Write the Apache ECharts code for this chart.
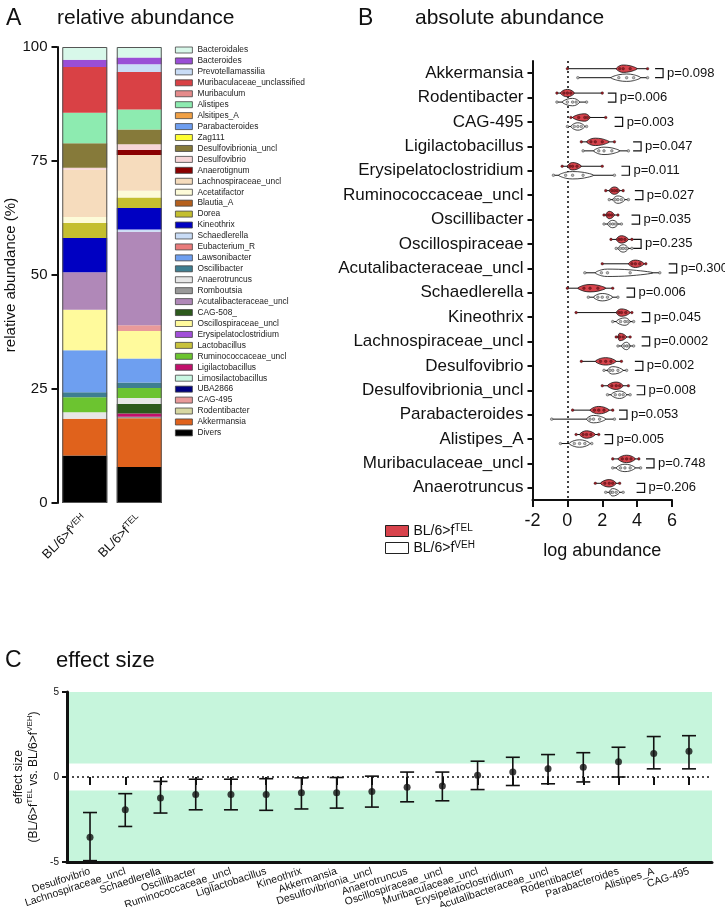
<!DOCTYPE html>
<html><head><meta charset="utf-8"><title>abundance</title>
<script src="https://cdn.jsdelivr.net/npm/echarts@6.0.0/dist/echarts.min.js"></script>
<style>html,body{margin:0;padding:0;background:#fff;}#chart{width:725px;height:907px;}</style>
</head><body><div id="chart"></div>
<script>
// ---------------- Panel A : relative abundance ----------------
const groupsA = ['VEH', 'TEL'];
const taxaLegend = ['Bacteroidales','Bacteroides','Prevotellamassilia','Muribaculaceae_unclassified','Muribaculum','Alistipes','Alsitipes_A','Parabacteroides','Zag111','Desulfovibrionia_uncl','Desulfovibrio','Anaerotignum','Lachnospiraceae_uncl','Acetatifactor','Blautia_A','Dorea','Kineothrix','Schaedlerella','Eubacterium_R','Lawsonibacter','Oscillibacter','Anaerotruncus','Romboutsia','Acutalibacteraceae_uncl','CAG-508_','Oscillospiraceae_uncl','Erysipelatoclostridium','Lactobacillus','Ruminococcaceae_uncl','Ligilactobacillus','Limosilactobacillus','UBA2866','CAG-495','Rodentibacter','Akkermansia','Divers'];
const taxaColors = ['#d8f8ea','#9a4ed6','#c9dcf6','#d94145','#e58b8b','#8debb0','#f0a044','#6e9ef0','#ffff33','#867a3a','#f7d6d8','#8a0000','#f6dcbd','#fdfbd8','#b5601d','#c4bf2f','#0000c2','#c9dcf6','#e97b7b','#6e9ff0','#3e7e91','#e7e7e7','#999999','#b088b8','#2c5a1c','#fffa9c','#a24fd9','#c8c23c','#6cc430','#c2106c','#c9f7e2','#000080','#e99a9a','#d8d8a2','#e0621c','#000000'];
// stacking order in the bars, bottom to top
const stackOrder = ['Divers','Akkermansia','Romboutsia','Ligilactobacillus','CAG-508_','Anaerotruncus','Ruminococcaceae_uncl','Oscillibacter','Lawsonibacter','Oscillospiraceae_uncl','CAG-495','Acutalibacteraceae_uncl','Schaedlerella','Kineothrix','Dorea','Acetatifactor','Lachnospiraceae_uncl','Anaerotignum','Desulfovibrio','Desulfovibrionia_uncl','Alistipes','Muribaculaceae_unclassified','Prevotellamassilia','Bacteroides','Bacteroidales'];
const vehShare = [10.4,8.1,0,0,0,1.4,3.3,1.1,9.2,8.9,0,8.2,0,7.5,3.3,1.3,10.4,0,0.4,5.4,6.7,10.0,0,1.6,2.8];
const telShare = [7.9,10.7,0.3,0.7,2.1,1.3,2.2,1.2,5.3,6.0,1.3,20.5,0.5,4.7,2.3,1.5,7.8,1.1,1.3,3.2,4.4,8.2,1.7,1.5,2.3];

// ---------------- Panel B : absolute abundance ----------------
const absCategories = ['Akkermansia','Rodentibacter','CAG-495','Ligilactobacillus','Erysipelatoclostridium','Ruminococcaceae_uncl','Oscillibacter','Oscillospiraceae','Acutalibacteraceae_uncl','Schaedlerella','Kineothrix','Lachnospiraceae_uncl','Desulfovibrio','Desulfovibrionia_uncl','Parabacteroides','Alistipes_A','Muribaculaceae_uncl','Anaerotruncus'];
const telMin = [0.0,-0.6,0.2,0.8,-0.3,2.2,2.1,2.5,2.0,0.0,0.5,2.8,0.8,2.0,0.3,0.5,2.6,1.6];
const telLo  = [2.8,-0.4,0.3,1.1,0.0,2.4,2.2,2.8,3.5,0.6,2.8,2.9,1.6,2.3,1.3,0.7,2.9,1.9];
const telMid = [3.2,0.0,1.0,1.6,0.3,2.7,2.4,3.1,3.9,1.3,3.1,3.0,2.2,2.8,1.8,1.1,3.4,2.4];
const telHi  = [4.0,0.4,1.3,2.4,0.8,3.0,2.7,3.5,4.4,2.2,3.6,3.4,2.8,3.2,2.4,1.6,3.9,2.8];
const telMax = [4.6,2.0,2.2,2.7,2.0,3.2,2.9,3.7,4.5,2.6,3.7,3.6,3.1,3.5,2.6,1.8,4.1,3.0];
const vehMin = [0.6,-0.6,0.0,0.9,-0.8,2.4,2.1,2.8,1.0,1.2,2.6,2.9,2.1,2.3,-0.9,-0.4,2.6,2.2];
const vehLo  = [2.5,-0.3,0.2,1.5,-0.5,2.6,2.3,2.9,1.6,1.5,2.8,3.1,2.3,2.5,1.1,0.1,2.8,2.4];
const vehMid = [3.4,0.3,0.6,2.1,0.3,2.9,2.6,3.2,2.3,2.0,3.3,3.4,2.6,3.0,1.5,0.7,3.3,2.6];
const vehHi  = [4.2,0.7,1.0,3.0,1.5,3.3,2.9,3.5,4.9,2.6,3.6,3.6,3.2,3.4,2.2,1.3,3.9,3.0];
const vehMax = [4.6,1.1,1.1,3.5,2.7,3.5,3.1,3.7,5.3,2.9,3.8,3.8,3.4,3.6,2.7,1.4,4.2,3.2];
const pLabels = ['p=0.098','p=0.006','p=0.003','p=0.047','p=0.011','p=0.027','p=0.035','p=0.235','p=0.300','p=0.006','p=0.045','p=0.0002','p=0.002','p=0.008','p=0.053','p=0.005','p=0.748','p=0.206'];
const pBracketAt = [5.03,2.32,2.71,3.77,3.10,3.87,3.68,3.77,5.81,3.39,4.26,4.26,3.87,3.97,2.96,2.13,4.51,3.97];
const absTicks = {min: -2, max: 6, step: 2};

// ---------------- Panel C : effect size ----------------
const effectCategories = ['Desulfovibrio','Lachnospiraceae_uncl','Schaedlerella','Oscillibacter','Ruminococcaceae_uncl','Ligilactobacillus','Kineothrix','Akkermansia','Desulfovibrionia_uncl','Anaerotruncus','Oscillospiraceae_uncl','Muribaculaceae_uncl','Erysipelatoclostridium','Acutalibacteraceae_uncl','Rodentibacter','Parabacteroides','Alistipes_A','CAG-495'];
const effectMean = [-3.54,-1.93,-1.24,-1.03,-1.03,-1.03,-0.93,-0.93,-0.85,-0.61,-0.53,0.10,0.29,0.48,0.58,0.90,1.38,1.51];
const effectLow  = [-4.92,-2.91,-2.12,-1.93,-1.93,-1.96,-1.88,-1.83,-1.77,-1.46,-1.40,-0.74,-0.50,-0.40,-0.29,0.00,0.48,0.48];
const effectHigh = [-2.09,-0.98,-0.26,-0.13,-0.13,-0.10,-0.05,-0.03,0.05,0.29,0.29,0.93,1.16,1.32,1.43,1.75,2.38,2.43];
const effectBand = 0.8;
const effectTicks = {min: -5, max: 5, step: 5};

// ---------------- helpers ----------------
const FONT = '"Liberation Sans", Arial, Helvetica, sans-serif';
function hasFont(name) {
  const c = document.createElement('canvas').getContext('2d');
  const s = 'abcdefghijklmnopqrstuvwxyz';
  c.font = '20px monospace'; const w1 = c.measureText(s).width;
  c.font = '20px "' + name + '", monospace'; const w2 = c.measureText(s).width;
  return Math.abs(w1 - w2) > 0.5;
}
const NARROW = hasFont('Liberation Sans Narrow');
const legendText = NARROW ? {fontFamily: '"Liberation Sans Narrow"', fontSize: 10} : {fontFamily: FONT, fontSize: 8.4};
const colorOf = n => taxaColors[taxaLegend.indexOf(n)];
const sum = a => a.reduce((s, v) => s + v, 0);
const supRich = (size, sup, lh) => ({
  a: {fontSize: size, fontFamily: FONT, color: '#111', lineHeight: lh},
  s: {fontSize: sup, fontFamily: FONT, color: '#111', lineHeight: sup + 1, verticalAlign: 'top'}
});

// ---------------- series A ----------------
const seriesA = [];
stackOrder.forEach((name, i) => seriesA.push({
  name, type: 'bar', stack: 'abund', xAxisIndex: 0, yAxisIndex: 0, barWidth: 45,
  data: [vehShare[i], telShare[i]], itemStyle: {color: colorOf(name)}, silent: true
}));
taxaLegend.filter(n => stackOrder.indexOf(n) < 0).forEach(name => seriesA.push({
  name, type: 'bar', stack: 'abund', xAxisIndex: 0, yAxisIndex: 0, barWidth: 45,
  data: [0, 0], itemStyle: {color: colorOf(name)}, silent: true
}));
seriesA.push({
  name: 'outline', type: 'bar', xAxisIndex: 0, yAxisIndex: 0, barWidth: 45, barGap: '-100%',
  data: [sum(vehShare), sum(telShare)], z: 5, silent: true,
  itemStyle: {color: 'rgba(0,0,0,0)', borderColor: '#555', borderWidth: 1}
});

// ---------------- series B ----------------
function violin(off, dotColor) {
  return function (params, api) {
    const cat = api.value(0);
    const yc = api.coord([0, cat])[1] + off;
    const px = k => api.coord([api.value(k), cat])[0];
    const xMin = px(1), xLo = px(2), xMid = px(3), xHi = px(4), xMax = px(5);
    const h = 3.7;
    const pts = [[xLo, yc], [(xLo + xMid) / 2, yc - h * 0.8], [xMid, yc - h], [(xMid + xHi) / 2, yc - h * 0.8], [xHi, yc],
                 [(xMid + xHi) / 2, yc + h * 0.8], [xMid, yc + h], [(xLo + xMid) / 2, yc + h * 0.8]];
    const fill = api.visual('color');
    const dots = [xMin, (xLo + xMid) / 2, xMid, (xMid + xHi) / 2, xMax].map(x => ({
      type: 'circle', shape: {cx: x, cy: yc, r: 1.3}, style: {fill: dotColor, stroke: '#222', lineWidth: 0.4}
    }));
    return {type: 'group', children: [
      {type: 'line', shape: {x1: xMin, y1: yc, x2: xMax, y2: yc}, style: {stroke: '#111', lineWidth: 1}},
      {type: 'polygon', shape: {points: pts, smooth: 0.3}, style: {fill, stroke: '#111', lineWidth: 0.8}}
    ].concat(dots)};
  };
}
const telData = absCategories.map((c, i) => [i, telMin[i], telLo[i], telMid[i], telHi[i], telMax[i]]);
const vehData = absCategories.map((c, i) => [i, vehMin[i], vehLo[i], vehMid[i], vehHi[i], vehMax[i]]);
const bracketData = absCategories.map((c, i) => [i, pBracketAt[i]]);

const seriesB = [
  {name: 'TEL', type: 'custom', xAxisIndex: 1, yAxisIndex: 1, data: telData, encode: {x: [1, 2, 3, 4, 5], y: 0},
   itemStyle: {color: '#d8434c'}, renderItem: violin(-4.5, '#a01820'), z: 4, silent: true,
   markLine: {silent: true, symbol: 'none', label: {show: false}, lineStyle: {color: '#111', type: [2, 3], width: 1.6},
              data: [{xAxis: 0}], z: 1}},
  {name: 'VEH', type: 'custom', xAxisIndex: 1, yAxisIndex: 1, data: vehData, encode: {x: [1, 2, 3, 4, 5], y: 0},
   itemStyle: {color: '#ffffff'}, renderItem: violin(4.5, '#bbbbbb'), z: 4, silent: true},
  {name: 'pvalues', type: 'custom', xAxisIndex: 1, yAxisIndex: 1, data: bracketData, encode: {x: 1, y: 0}, silent: true,
   renderItem: function (params, api) {
     const cat = api.value(0);
     const yc = api.coord([0, cat])[1];
     const x = api.coord([api.value(1), cat])[0];
     return {type: 'group', children: [
       {type: 'polyline', shape: {points: [[x, yc - 4.5], [x + 8, yc - 4.5], [x + 8, yc + 4.5], [x, yc + 4.5]]},
        style: {stroke: '#111', lineWidth: 1.2, fill: null}},
       {type: 'text', x: x + 12, y: yc, style: {text: pLabels[params.dataIndex], fill: '#111',
        font: '13px ' + FONT, align: 'left', verticalAlign: 'middle'}}
     ]};
   }}
];

// ---------------- series C ----------------
const seriesC = [
  {name: 'band', type: 'scatter', xAxisIndex: 2, yAxisIndex: 2, data: [], silent: true, z: 1,
   markArea: {silent: true, itemStyle: {color: '#c6f5dc'}, label: {show: false},
              data: [[{yAxis: effectBand}, {yAxis: effectTicks.max}], [{yAxis: effectTicks.min}, {yAxis: -effectBand}]]},
   markLine: {silent: true, symbol: 'none', label: {show: false}, lineStyle: {color: '#111', type: [2, 3], width: 1.5},
              data: [{yAxis: 0}]}},
  {name: 'err', type: 'custom', xAxisIndex: 3, yAxisIndex: 3, silent: true, z: 5,
   data: effectCategories.map((c, i) => [i, effectLow[i], effectHigh[i]]), encode: {x: 0, y: [1, 2]},
   renderItem: function (params, api) {
     const lo = api.coord([api.value(0), api.value(1)]);
     const hi = api.coord([api.value(0), api.value(2)]);
     const w = 7;
     const st = {stroke: '#111', lineWidth: 1.6};
     return {type: 'group', children: [
       {type: 'line', shape: {x1: lo[0], y1: lo[1], x2: hi[0], y2: hi[1]}, style: st},
       {type: 'line', shape: {x1: lo[0] - w, y1: lo[1], x2: lo[0] + w, y2: lo[1]}, style: st},
       {type: 'line', shape: {x1: hi[0] - w, y1: hi[1], x2: hi[0] + w, y2: hi[1]}, style: st}
     ]};
   }},
  {name: 'mean', type: 'scatter', xAxisIndex: 3, yAxisIndex: 3, silent: true, z: 6, symbolSize: 7,
   itemStyle: {color: '#111'}, data: effectCategories.map((c, i) => [i, effectMean[i]])}
];

const axisLineStyle = w => ({show: true, onZero: false, lineStyle: {color: '#111', width: w}});
const tickStyle = (len, w) => ({show: true, length: len, lineStyle: {color: '#111', width: w}});
const titleStyle = s => ({fontSize: s, fontWeight: 'normal', color: '#111', fontFamily: FONT});

const option = {
  animation: false,
  backgroundColor: '#ffffff',
  textStyle: {fontFamily: FONT},
  title: [
    {text: 'A', left: 6, top: 7, padding: 0, textStyle: titleStyle(23)},
    {text: 'relative abundance', left: 57, top: 8, padding: 0, textStyle: titleStyle(21)},
    {text: 'B', left: 358, top: 7, padding: 0, textStyle: titleStyle(23)},
    {text: 'absolute abundance', left: 415, top: 8, padding: 0, textStyle: titleStyle(21)},
    {text: 'C', left: 5, top: 649, padding: 0, textStyle: titleStyle(23)},
    {text: 'effect size', left: 56, top: 650, padding: 0, textStyle: titleStyle(22)}
  ],
  legend: [
    {data: taxaLegend, orient: 'vertical', left: 175, top: 46, padding: 0, itemWidth: 17, itemHeight: 6, itemGap: 2.94,
     icon: 'rect', selectedMode: false, textStyle: Object.assign({color: '#222'}, legendText),
     itemStyle: {borderColor: '#444', borderWidth: 0.8}},
    {data: ['TEL', 'VEH'], orient: 'vertical', left: 385, top: 523, padding: 0, itemWidth: 23, itemHeight: 11, itemGap: 2,
     icon: 'rect', selectedMode: false, itemStyle: {borderColor: '#222', borderWidth: 1},
     formatter: n => '{a|BL/6>f}{s|' + n + '}',
     textStyle: {rich: supRich(14, 10, 16)}}
  ],
  grid: [
    {left: 57.5, top: 47, width: 109, height: 456, outerBoundsMode: 'none'},
    {left: 532.5, top: 61, width: 139.5, height: 439, outerBoundsMode: 'none'},
    {left: 67, top: 692, width: 645, height: 170, outerBoundsMode: 'none'},
    {left: 72.4, top: 692, width: 634.2, height: 170, outerBoundsMode: 'none'}
  ],
  xAxis: [
    {type: 'category', gridIndex: 0, data: groupsA, axisLine: {show: false}, axisTick: {show: false},
     axisLabel: {rotate: 45, margin: 14, interval: 0, hideOverlap: false, formatter: v => '{a|BL/6>f}{s|' + v + '}', rich: supRich(13, 9, 15)}},
    {type: 'value', gridIndex: 1, min: absTicks.min, max: absTicks.max, interval: absTicks.step,
     axisLine: axisLineStyle(2), axisTick: tickStyle(7, 2), splitLine: {show: false},
     axisLabel: {fontSize: 18, color: '#111', margin: 12, fontFamily: FONT},
     name: 'log abundance', nameLocation: 'middle', nameGap: 42, nameTextStyle: {fontSize: 18, color: '#111', fontFamily: FONT}},
    {type: 'value', gridIndex: 2, min: 0, max: 1, z: 10, axisLine: axisLineStyle(3), axisTick: {show: false},
     axisLabel: {show: false}, splitLine: {show: false}},
    {type: 'category', gridIndex: 3, data: effectCategories, axisLine: {show: false}, z: 10,
     axisTick: {show: true, alignWithLabel: true, length: 8, lineStyle: {color: '#111', width: 2}},
     axisLabel: {rotate: 18, margin: 9, interval: 0, hideOverlap: false, fontSize: 10.5, color: '#111', fontFamily: FONT}}
  ],
  yAxis: [
    {type: 'value', gridIndex: 0, min: 0, max: 100, interval: 25, axisLine: axisLineStyle(2), axisTick: tickStyle(6, 2),
     splitLine: {show: false}, axisLabel: {fontSize: 15, color: '#111', margin: 10, fontFamily: FONT},
     name: 'relative abundance (%)', nameLocation: 'middle', nameRotate: 90, nameGap: 36,
     nameTextStyle: {fontSize: 15, color: '#111', fontFamily: FONT}},
    {type: 'category', gridIndex: 1, inverse: true, data: absCategories, axisLine: axisLineStyle(2),
     axisTick: {show: true, alignWithLabel: true, length: 5, lineStyle: {color: '#111', width: 2}},
     axisLabel: {fontSize: 17, color: '#111', margin: 9, interval: 0, fontFamily: FONT}},
    {type: 'value', gridIndex: 2, min: effectTicks.min, max: effectTicks.max, interval: effectTicks.step, z: 10,
     axisLine: axisLineStyle(3), axisTick: tickStyle(5, 2), splitLine: {show: false},
     axisLabel: {fontSize: 10, color: '#111', margin: 8, fontFamily: FONT},
     name: '{a|effect size}\n{a|(BL/6>f}{s|TEL}{a| vs. BL/6>f}{s|VEH}{a|)}', nameLocation: 'middle', nameRotate: 90, nameGap: 18,
     nameTextStyle: {rich: supRich(12, 8, 15)}},
    {type: 'value', gridIndex: 3, min: effectTicks.min, max: effectTicks.max, show: false}
  ],
  series: seriesA.concat(seriesB, seriesC)
};
const chart = echarts.init(document.getElementById('chart'), null, {renderer: 'canvas'});
chart.setOption(option);
</script>
</body></html>
